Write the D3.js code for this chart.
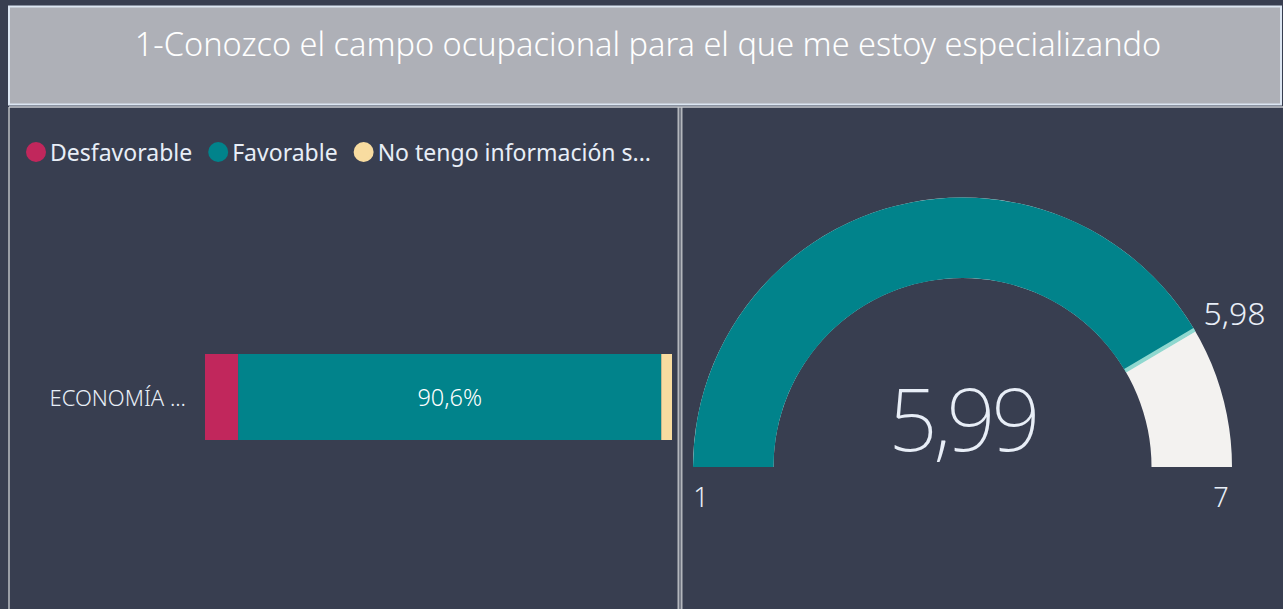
<!DOCTYPE html>
<html>
<head>
<meta charset="utf-8">
<script src="https://cdn.jsdelivr.net/npm/d3@7"></script>
<style>
  html, body { margin: 0; padding: 0; background: #383e50; }
  svg { display: block; }
  text { font-family: "Segoe UI", "Noto Sans", "Open Sans", sans-serif; }
</style>
</head>
<body>
<svg id="chart" width="1283" height="609"></svg>
<script>
// data
const titleText = '1-Conozco el campo ocupacional para el que me estoy especializando';
const categories = ['ECONOMÍA ...'];
const seriesNames = ['Desfavorable', 'Favorable', 'No tengo información s...'];
const seriesValues = [7.1, 90.6, 2.3];
const seriesColors = ['#c1275c', '#01838b', '#f8dca0'];
const gaugeMin = 1;
const gaugeMax = 7;
const gaugeValue = 5.99;
const gaugeTarget = 5.98;
const gaugeLabels = ['1', '7', '5,98', '5,99'];

const svg = d3.select('#chart');
const W = 1283, H = 609;

svg.append('rect').attr('width', W).attr('height', H).attr('fill', '#383e50');

// title box
svg.append('rect')
    .attr('x', 9).attr('y', 6.5)
    .attr('width', 1272).attr('height', 98)
    .attr('fill', '#aeb0b7')
    .attr('stroke', '#dce6f2').attr('stroke-width', 2);

svg.append('text')
    .attr('x', 648).attr('y', 43)
    .attr('text-anchor', 'middle')
    .attr('dominant-baseline', 'central')
    .attr('fill', '#ffffff')
    .style('font-size', '32.5px')
    .style('font-weight', 300)
    .text(titleText);

// panel borders
svg.append('line').attr('x1', 9).attr('x2', 9).attr('y1', 107).attr('y2', H)
    .attr('stroke', '#9a9ea6').attr('stroke-width', 2);
svg.append('line').attr('x1', 678.5).attr('x2', 678.5).attr('y1', 107).attr('y2', H)
    .attr('stroke', '#b4b7bd').attr('stroke-width', 2);
svg.append('line').attr('x1', 681.5).attr('x2', 681.5).attr('y1', 107).attr('y2', H)
    .attr('stroke', '#b4b7bd').attr('stroke-width', 2);
svg.append('line').attr('x1', 9).attr('x2', W).attr('y1', 107).attr('y2', 107)
    .attr('stroke', '#c9ccd2').attr('stroke-width', 1.5);

// ---- legend (items laid out one after another by text width)
const legend = svg.append('g').attr('class', 'legend');
let lx = 36;
seriesNames.forEach((name, i) => {
    const g = legend.append('g').attr('transform', `translate(${lx},152)`);
    g.append('circle').attr('r', 10).attr('fill', seriesColors[i]);
    const t = g.append('text')
        .attr('x', 14).attr('y', 0)
        .attr('dominant-baseline', 'central')
        .attr('fill', '#e8eef7')
        .style('font-size', '23px')
        .text(name);
    lx += 14 + t.node().getComputedTextLength() + 26;
});

// ---- stacked bar
const x = d3.scaleLinear().domain([0, 100]).range([205, 672]);
const y = d3.scaleBand().domain(categories).range([354, 440]).padding(0);

const stackData = [Object.fromEntries(seriesNames.map((n, i) => [n, seriesValues[i]]))];
stackData[0].cat = categories[0];
const stacked = d3.stack().keys(seriesNames)(stackData);

const bars = svg.append('g').attr('class', 'bars');
bars.selectAll('rect')
    .data(stacked)
    .enter().append('rect')
    .attr('x', d => x(d[0][0]))
    .attr('width', d => x(d[0][1]) - x(d[0][0]))
    .attr('y', y(categories[0]))
    .attr('height', y.bandwidth())
    .attr('fill', (d, i) => seriesColors[i]);

bars.selectAll('text.val')
    .data(stacked.filter(s => s.key === 'Favorable'))
    .enter().append('text')
    .attr('class', 'val')
    .attr('x', d => (x(d[0][0]) + x(d[0][1])) / 2)
    .attr('y', y(categories[0]) + y.bandwidth() / 2)
    .attr('text-anchor', 'middle')
    .attr('dominant-baseline', 'central')
    .attr('fill', '#ffffff')
    .style('font-size', '23.5px')
    .style('font-weight', 300)
    .text(d => d3.format('.1f')(d[0].data[d.key]).replace('.', ',') + '%');

svg.append('text')
    .attr('x', 186)
    .attr('y', y(categories[0]) + y.bandwidth() / 2)
    .attr('text-anchor', 'end')
    .attr('dominant-baseline', 'central')
    .attr('fill', '#e8eef7')
    .style('font-size', '22px')
    .style('font-weight', 300)
    .text(categories[0]);

// ---- gauge
const cx = 962.5, cy = 467;
const rOuter = 269.5, rInner = 189;
const angle = d3.scaleLinear().domain([gaugeMin, gaugeMax]).range([-Math.PI / 2, Math.PI / 2]);
const arc = d3.arc().innerRadius(rInner).outerRadius(rOuter);

const gauge = svg.append('g').attr('transform', `translate(${cx},${cy})`);
gauge.append('path')
    .attr('d', arc({startAngle: angle(gaugeMin), endAngle: angle(gaugeMax)}))
    .attr('fill', '#f3f2f0');
gauge.append('path')
    .attr('d', arc({startAngle: angle(gaugeMin), endAngle: angle(gaugeValue)}))
    .attr('fill', '#01838b');

const ta = angle(gaugeTarget);
gauge.append('line')
    .attr('x1', rInner * Math.sin(ta)).attr('y1', -rInner * Math.cos(ta))
    .attr('x2', rOuter * Math.sin(ta)).attr('y2', -rOuter * Math.cos(ta))
    .attr('stroke', '#8fd8cf').attr('stroke-width', 4);

gauge.append('text')
    .attr('x', rOuter * Math.sin(ta) + 9).attr('y', -rOuter * Math.cos(ta) - 17)
    .attr('dominant-baseline', 'central')
    .attr('fill', '#e8eef7')
    .style('font-size', '32px')
    .style('font-weight', 300)
    .text(gaugeLabels[2]);

gauge.append('text')
    .attr('x', -rOuter + 8).attr('y', 29)
    .attr('text-anchor', 'middle')
    .attr('dominant-baseline', 'central')
    .attr('fill', '#e8eef7')
    .style('font-size', '27px')
    .style('font-weight', 300)
    .text(gaugeLabels[0]);

gauge.append('text')
    .attr('x', rOuter - 11).attr('y', 29)
    .attr('text-anchor', 'middle')
    .attr('dominant-baseline', 'central')
    .attr('fill', '#e8eef7')
    .style('font-size', '27px')
    .style('font-weight', 300)
    .text(gaugeLabels[1]);

gauge.append('text')
    .attr('x', 0).attr('y', -50)
    .attr('text-anchor', 'middle')
    .attr('dominant-baseline', 'central')
    .attr('fill', '#e8eef7')
    .style('font-size', '86px')
    .style('font-weight', 200)
    .style('letter-spacing', '-4px')
    .text(gaugeLabels[3]);
</script>
</body>
</html>
